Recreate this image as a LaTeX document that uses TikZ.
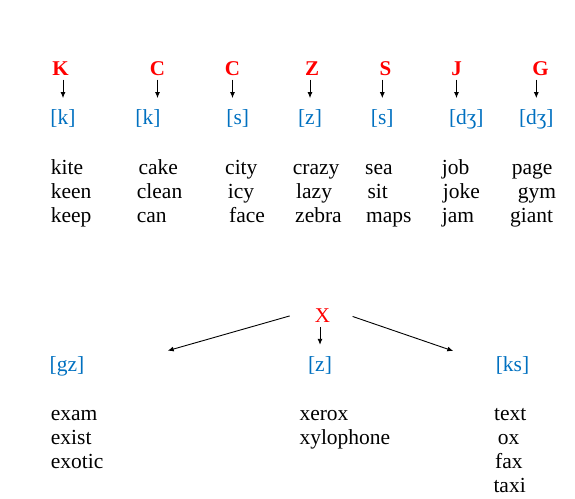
\documentclass[tikz,border=0pt]{standalone}
\usepackage{fontspec}
\setmainfont{Liberation Serif}
\usetikzlibrary{arrows.meta}
\definecolor{letterred}{RGB}{255,0,0}
\definecolor{soundblue}{RGB}{0,112,192}

\begin{document}
\begin{tikzpicture}[
  x=1pt, y=-1pt,
  every node/.style={inner sep=0pt, font=\fontsize{21.5}{24}\selectfont},
  letter/.style={anchor=base, text=letterred, font=\fontsize{21}{24}\selectfont\bfseries,
                 text height=13pt, text depth=0pt},
  sound/.style={anchor=base, text=soundblue, text height=15pt, text depth=5pt},
  word/.style={anchor=base west},
  arr/.style={-{Latex[length=6pt,width=5pt]}, line width=0.9pt,
              shorten <=4.3pt, shorten >=11.4pt}
]
\useasboundingbox (0,0) rectangle (575,498);

% =======================
% Top row: letters
% =======================
\node[letter] (lK)  at ( 60.5,75) {K};
\node[letter] (lC1) at (157.5,75) {C};
\node[letter] (lC2) at (232.5,75) {C};
\node[letter] (lZ)  at (312.0,75) {Z};
\node[letter] (lS)  at (385.5,75) {S};
\node[letter] (lJ)  at (456.5,75) {J};
\node[letter] (lG)  at (540.5,75) {G};

% Sounds
\node[sound] (sK)  at ( 63.0,124.7) {[k]};
\node[sound] (sC1) at (148.0,124.7) {[k]};
\node[sound] (sC2) at (237.8,124.7) {[s]};
\node[sound] (sZ)  at (310.0,124.7) {[z]};
\node[sound] (sS)  at (382.3,124.7) {[s]};
\node[sound] (sJ)  at (466.3,124.7) {[dʒ]};
\node[sound] (sG)  at (536.3,124.7) {[dʒ]};

% arrows under the letter
\foreach \u/\v in {lC1/sC1,lC2/sC2,lJ/sJ}{
  \draw[arr] (\u.south) -- (\u.south |- \v.north);
}
% arrows over the sound
\foreach \u/\v in {lK/sK,lZ/sZ,lS/sS,lG/sG}{
  \draw[arr] (\v.north |- \u.south) -- (\v.north);
}

% Example words
\node[word] (wKite)  at ( 50.7,174) {kite};
\node[word] (wKeen)  at ( 50.7,198) {keen};
\node[word] (wKeep)  at ( 50.7,222) {keep};

\node[word] (wCake)  at (138.3,174) {cake};
\node[word] (wClean) at (136.7,198) {clean};
\node[word] (wCan)   at (136.7,222) {can};

\node[word] (wCity)  at (225.0,174) {city};
\node[word] (wIcy)   at (227.7,198) {icy};
\node[word] (wFace)  at (229.0,222) {face};

\node[word] (wCrazy) at (292.7,174) {crazy};
\node[word] (wLazy)  at (296.0,198) {lazy};
\node[word] (wZebra) at (295.0,222) {zebra};

\node[word] (wSea)   at (365.0,174) {sea};
\node[word] (wSit)   at (367.3,198) {sit};
\node[word] (wMaps)  at (366.0,222) {maps};

\node[word] (wJob)   at (441.7,174) {job};
\node[word] (wJoke)  at (442.7,198) {joke};
\node[word] (wJam)   at (441.7,222) {jam};

\node[word] (wPage)  at (511.7,174) {page};
\node[word] (wGym)   at (517.7,198) {gym};
\node[word] (wGiant) at (510.0,222) {giant};

% =======================
% Bottom: the letter X
% =======================
\node[letter, font=\fontsize{21}{24}\selectfont] (lX) at (322.5,322) {X};

\node[sound] (sGZ) at ( 67.0,371.5) {[gz]};
\node[sound] (sZX) at (320.0,371.5) {[z]};
\node[sound] (sKS) at (512.5,371.5) {[ks]};

\coordinate (gzTip) at (167.7,350.7);
\coordinate (ksTip) at (453.3,351.0);

\draw[arr, shorten <=26pt, shorten >=0pt] (lX.north west) -- (gzTip);
\draw[arr, shorten <=4.7pt, shorten >=11.5pt] (sZX.north |- lX.south) -- (sZX.north);
\draw[arr, shorten <=23.6pt, shorten >=0pt] (lX.north east) -- (ksTip);

\node[word] (wExam)   at ( 50.7,420) {exam};
\node[word] (wExist)  at ( 50.7,444) {exist};
\node[word] (wExotic) at ( 50.7,468) {exotic};

\node[word] (wXerox)  at (299.3,420) {xerox};
\node[word] (wXylo)   at (299.3,444) {xylophone};

\node[word] (wText)   at (494.0,420) {text};
\node[word] (wOx)     at (497.7,444) {ox};
\node[word] (wFax)    at (495.0,468) {fax};
\node[word] (wTaxi)   at (493.3,492) {taxi};

\end{tikzpicture}
\end{document}
